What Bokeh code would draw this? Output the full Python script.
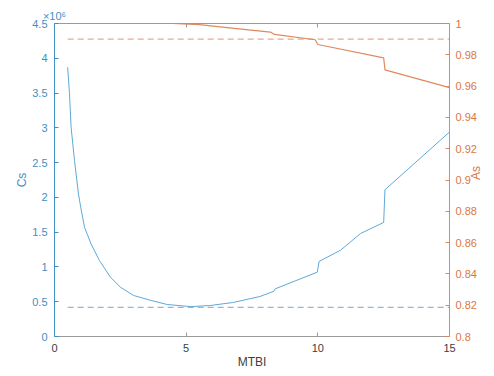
import math
from bokeh.plotting import figure
from bokeh.models import LinearAxis, Range1d, FixedTicker, CustomJSTickFormatter
from bokeh.embed import file_html
from bokeh.resources import INLINE

# ---- data ----
mtbi_cs = [0.5, 0.57, 0.63, 0.76, 0.91, 1.0, 1.14, 1.39, 1.71, 2.13, 2.5, 3.0,
           3.65, 4.28, 5.17, 5.9, 6.8, 7.8, 8.33, 8.38, 9.98, 10.05, 10.86,
           11.62, 12.5, 12.55, 15.0]
cs_millions = [3.87, 3.49, 3.01, 2.53, 2.05, 1.85, 1.57, 1.33, 1.09, 0.85, 0.71,
               0.59, 0.52, 0.46, 0.43, 0.445, 0.49, 0.575, 0.65, 0.685, 0.925,
               1.08, 1.24, 1.48, 1.64, 2.11, 2.94]
mtbi_as = [0.5, 4.5, 5.5, 7.0, 8.2, 8.35, 9.9, 10.0, 12.5, 12.55, 15.0]
as_vals = [1.0, 1.0, 0.9993, 0.9966, 0.9945, 0.993, 0.9896, 0.9866, 0.978,
           0.9704, 0.959]
threshold_x = [0.5, 15.0]
cs_threshold = 0.42
as_threshold = 0.99

x_ticks = [0, 5, 10, 15]
left_ticks = [0, 0.5, 1, 1.5, 2, 2.5, 3, 3.5, 4, 4.5]
right_ticks = [0.8, 0.82, 0.84, 0.86, 0.88, 0.9, 0.92, 0.94, 0.96, 0.98, 1.0]
x_label = "MTBI"
left_label = "Cs"
right_label = "As"
scale_label = "×10⁶"

BLUE_LINE = "#5ea9d6"
BLUE_TEXT = "#3f8fc2"
BLUE_DASH = "#93b9cf"
ORANGE_LINE = "#de8a5e"
ORANGE_TEXT = "#d9783f"
ORANGE_DASH = "#eaa985"
GRAY = "#9a9a9a"
DARK = "#404040"
FONT = "Liberation Sans"

p = figure(width=494, height=376, output_backend="svg", toolbar_location=None,
           x_range=Range1d(0, 15), y_range=Range1d(0, 4.5),
           x_axis_location=None, y_axis_location=None,
           min_border_left=54, min_border_right=45,
           min_border_top=23, min_border_bottom=40)
p.extra_y_ranges = {"right": Range1d(0.8, 1.0)}
p.outline_line_color = None
p.background_fill_color = "white"
p.border_fill_color = "white"
p.xgrid.grid_line_color = None
p.ygrid.grid_line_color = None
p.title.visible = False

fmt_code = "return String(Math.round(tick*100)/100);"


def style(ax, color, text_color, standoff):
    ax.axis_line_color = color
    ax.major_tick_line_color = color
    ax.major_tick_in = 4
    ax.major_tick_out = 0
    ax.minor_tick_in = 0
    ax.minor_tick_out = 0
    ax.major_label_text_color = text_color
    ax.major_label_text_font = FONT
    ax.major_label_text_font_size = "11px"
    ax.major_label_standoff = standoff
    ax.axis_label_text_font = FONT
    ax.axis_label_text_font_size = "12px"
    ax.axis_label_text_font_style = "normal"
    ax.axis_label_text_color = text_color


left = LinearAxis(ticker=FixedTicker(ticks=left_ticks),
                  formatter=CustomJSTickFormatter(code=fmt_code),
                  axis_label=left_label)
style(left, BLUE_TEXT, BLUE_TEXT, 7)
left.axis_label_standoff = 0
p.add_layout(left, "left")

right = LinearAxis(y_range_name="right", ticker=FixedTicker(ticks=right_ticks),
                   formatter=CustomJSTickFormatter(code=fmt_code),
                   axis_label=right_label)
style(right, ORANGE_LINE, ORANGE_TEXT, 6)
right.axis_label_standoff = -4
right.axis_label_orientation = math.pi / 2
p.add_layout(right, "right")

bottom = LinearAxis(ticker=FixedTicker(ticks=x_ticks),
                    formatter=CustomJSTickFormatter(code=fmt_code),
                    axis_label=x_label)
style(bottom, GRAY, DARK, 7)
bottom.axis_label_standoff = 0
bottom.axis_label_text_color = DARK
p.add_layout(bottom, "below")

top = LinearAxis(ticker=FixedTicker(ticks=x_ticks),
                 formatter=CustomJSTickFormatter(
                     code="return tick == 0 ? %r : '';" % scale_label))
style(top, GRAY, BLUE_TEXT, 2)
top.major_label_text_align = "left"
p.add_layout(top, "above")

p.line(threshold_x, [cs_threshold, cs_threshold], line_color=BLUE_DASH,
       line_width=1.2, line_dash="6 4")
p.line(threshold_x, [as_threshold, as_threshold], line_color=ORANGE_DASH,
       line_width=1.2, line_dash="6 4", y_range_name="right")
p.line(mtbi_cs, cs_millions, line_color=BLUE_LINE, line_width=1)
p.line(mtbi_as, as_vals, line_color=ORANGE_LINE, line_width=1.2,
       y_range_name="right")

open("out.html", "w").write(file_html(p, INLINE))
